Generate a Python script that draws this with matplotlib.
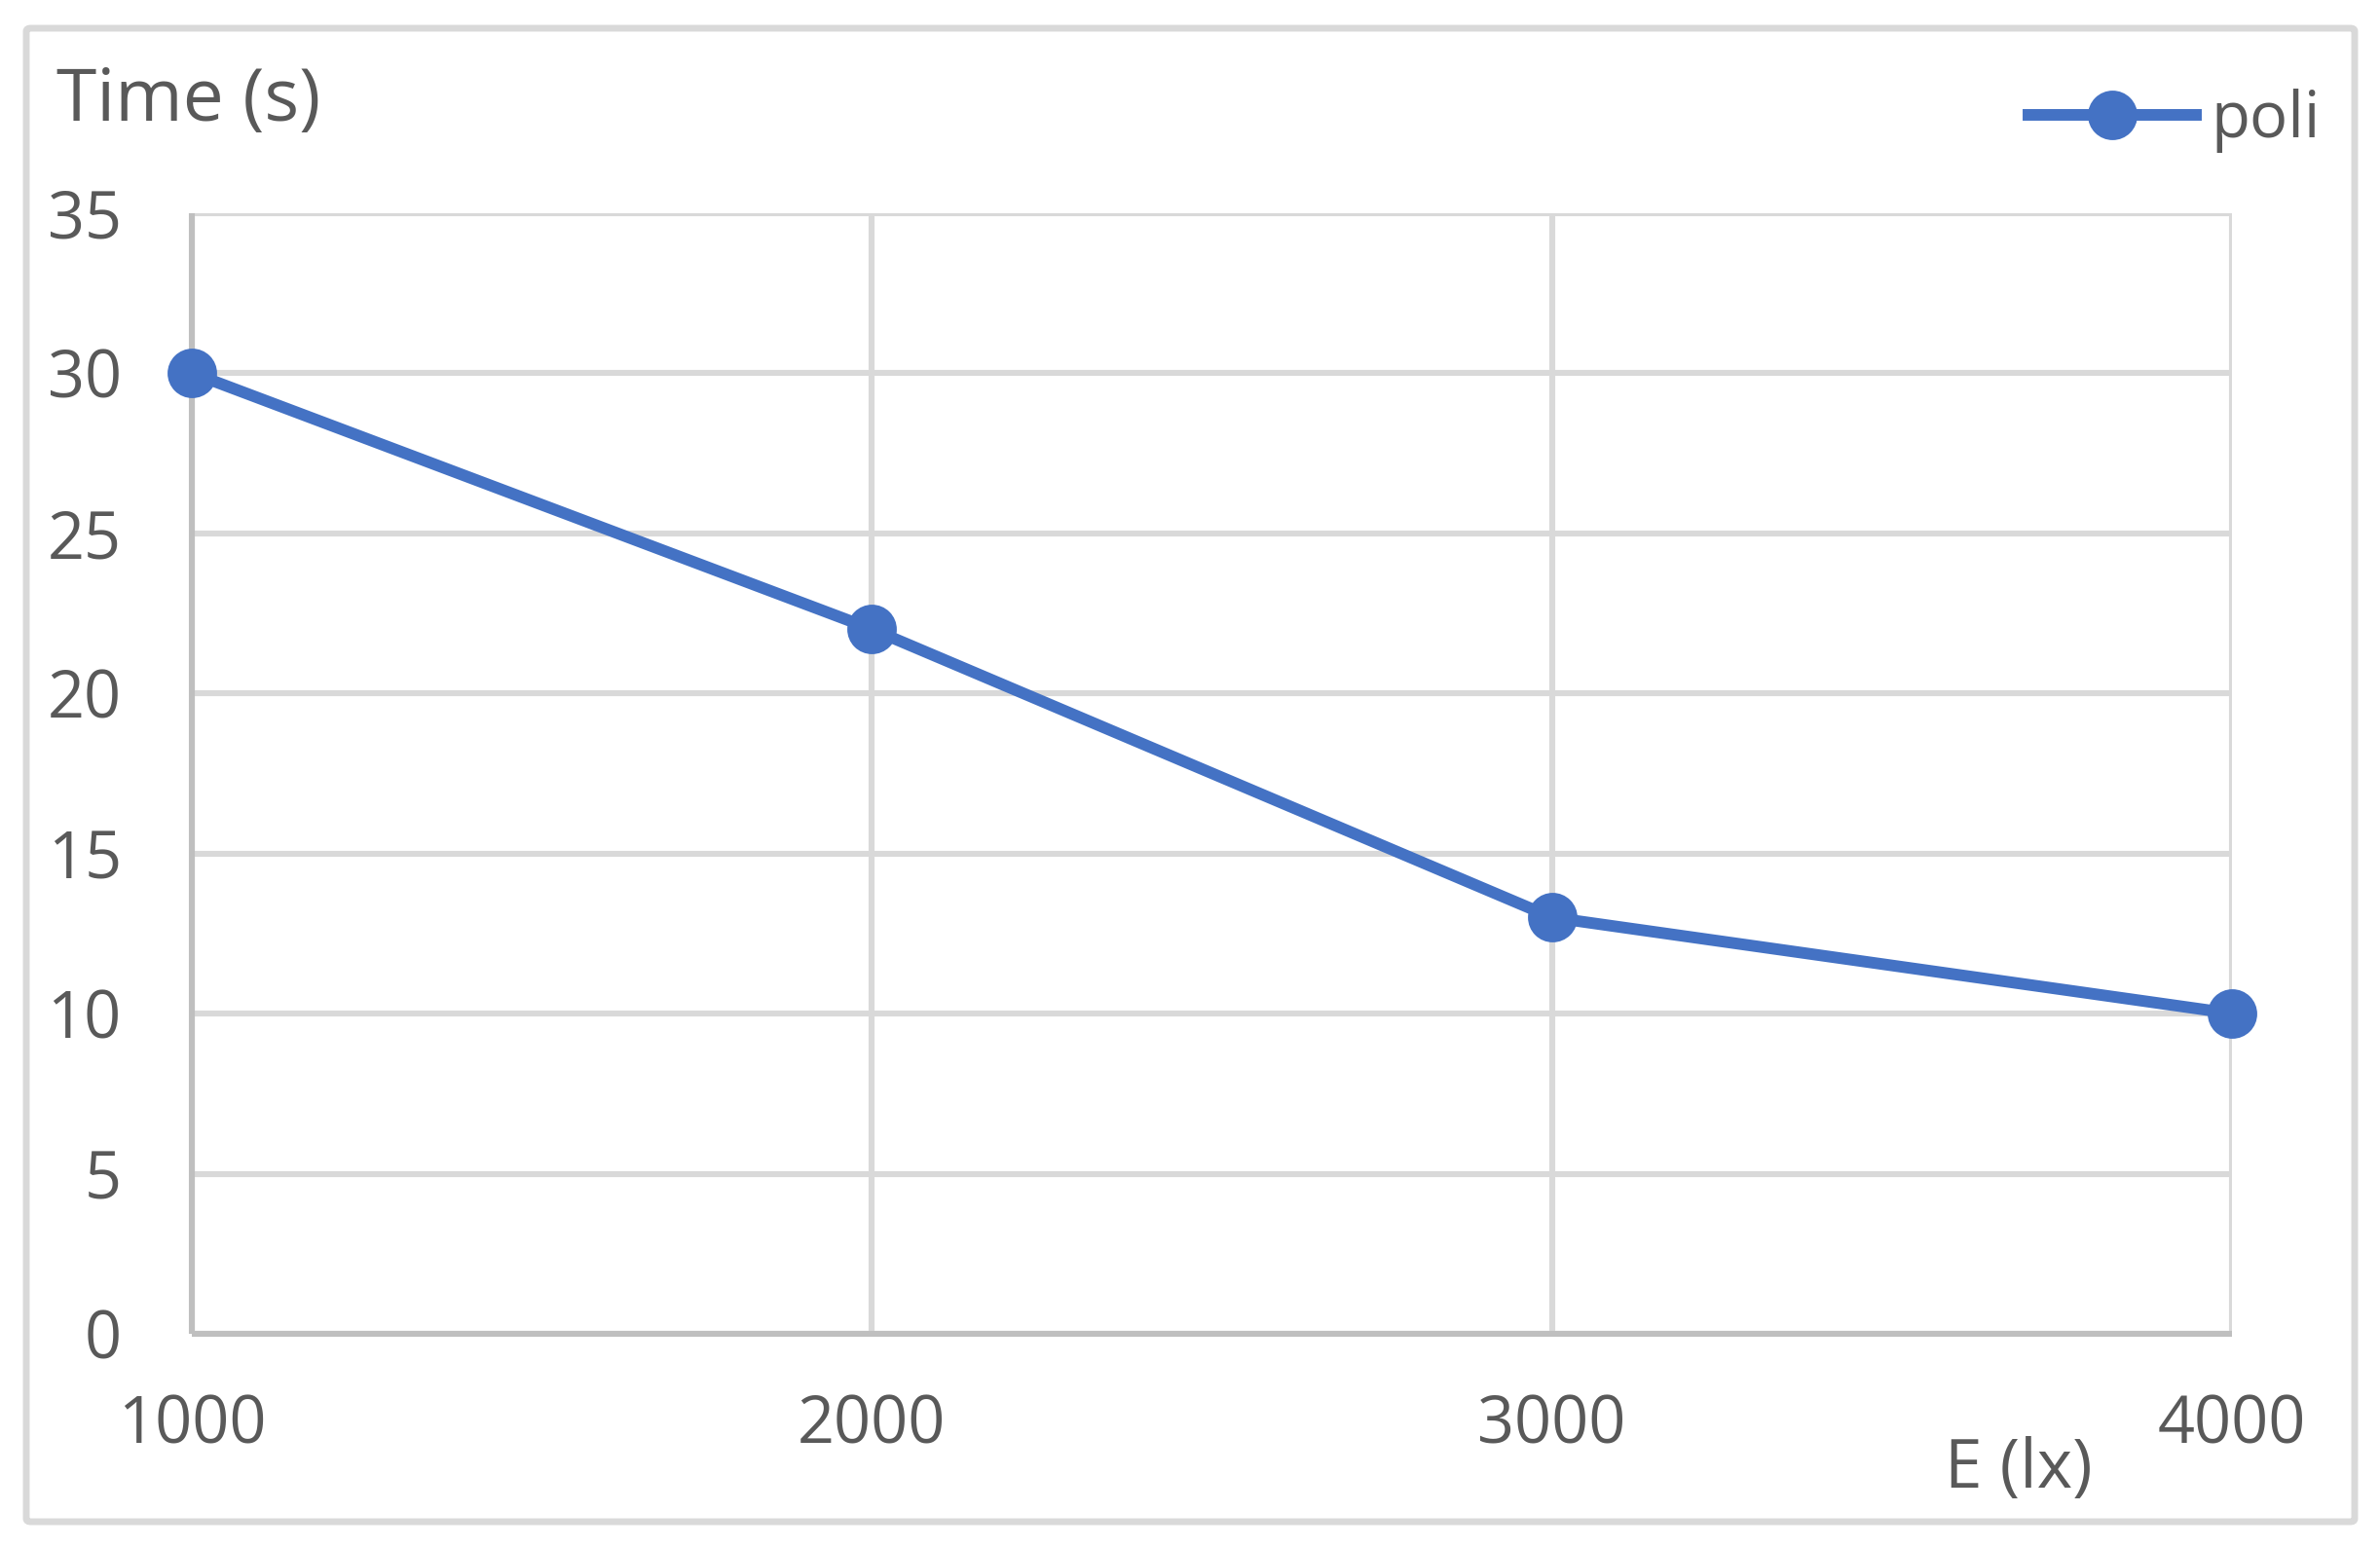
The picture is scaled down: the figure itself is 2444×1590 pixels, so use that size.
import matplotlib
matplotlib.use("Agg")
import matplotlib.pyplot as plt
from matplotlib.patches import FancyBboxPatch

# data
lux = [1000, 2000, 3000, 4000]
time_s = [30, 22, 13, 10]
y_ticks = [0, 5, 10, 15, 20, 25, 30, 35]

W, H = 2444, 1590
DPI = 200
TXT = "#595959"
GRID = "#D9D9D9"
AXIS = "#BFBFBF"
BLUE = "#4472C4"

plt.rcParams['font.family'] = ['Open Sans', 'DejaVu Sans']

fig = plt.figure(figsize=(W / DPI, H / DPI), dpi=DPI)
fig.patch.set_facecolor("white")

# outer chart frame
frame = FancyBboxPatch((27 / W, 1 - 1563 / H), (2418 - 27) / W, (1563 - 29) / H,
                       boxstyle="round,pad=0,rounding_size=0.002",
                       transform=fig.transFigure, fill=False,
                       edgecolor=GRID, linewidth=2.5)
fig.patches.append(frame)

ax = fig.add_axes([197 / W, 1 - 1370 / H, (2292 - 197) / W, (1370 - 218.5) / H])

ax.plot(lux, time_s, color=BLUE, linewidth=4.3, marker="o", markersize=17.3,
        label="poli", zorder=5, clip_on=False)

ax.set_xlim(1000, 4000)
ax.set_ylim(0, 35)
ax.set_xticks(lux)
ax.set_yticks(y_ticks)
ax.set_xticklabels([str(v) for v in lux])

ax.grid(True, color=GRID, linewidth=2.2)
ax.set_axisbelow(True)
for side in ["top", "right"]:
    ax.spines[side].set_visible(False)
for side in ["left", "bottom"]:
    ax.spines[side].set_color(AXIS)
    ax.spines[side].set_linewidth(2.2)
    ax.spines[side].set_zorder(3)
    ax.spines[side].set_capstyle("butt")

ax.tick_params(axis="both", length=0, labelsize=24, labelcolor=TXT)
ax.tick_params(axis="y", pad=26)
ax.tick_params(axis="x", pad=22)

fig.text(58 / W, 1 - 124 / H, "Time (s)", fontsize=27, color=TXT,
         ha="left", va="baseline")
fig.text(1997 / W, 1 - 1528 / H, "E (lx)", fontsize=25, color=TXT,
         ha="left", va="baseline")

leg = fig.legend(loc="center left", bbox_to_anchor=(2083 / W, 1 - 124 / H),
                 frameon=False, fontsize=23.5, borderpad=0, borderaxespad=0,
                 handlelength=2.63, handletextpad=0.24, labelcolor=TXT)

fig.savefig("out.png", dpi=DPI, facecolor="white")
